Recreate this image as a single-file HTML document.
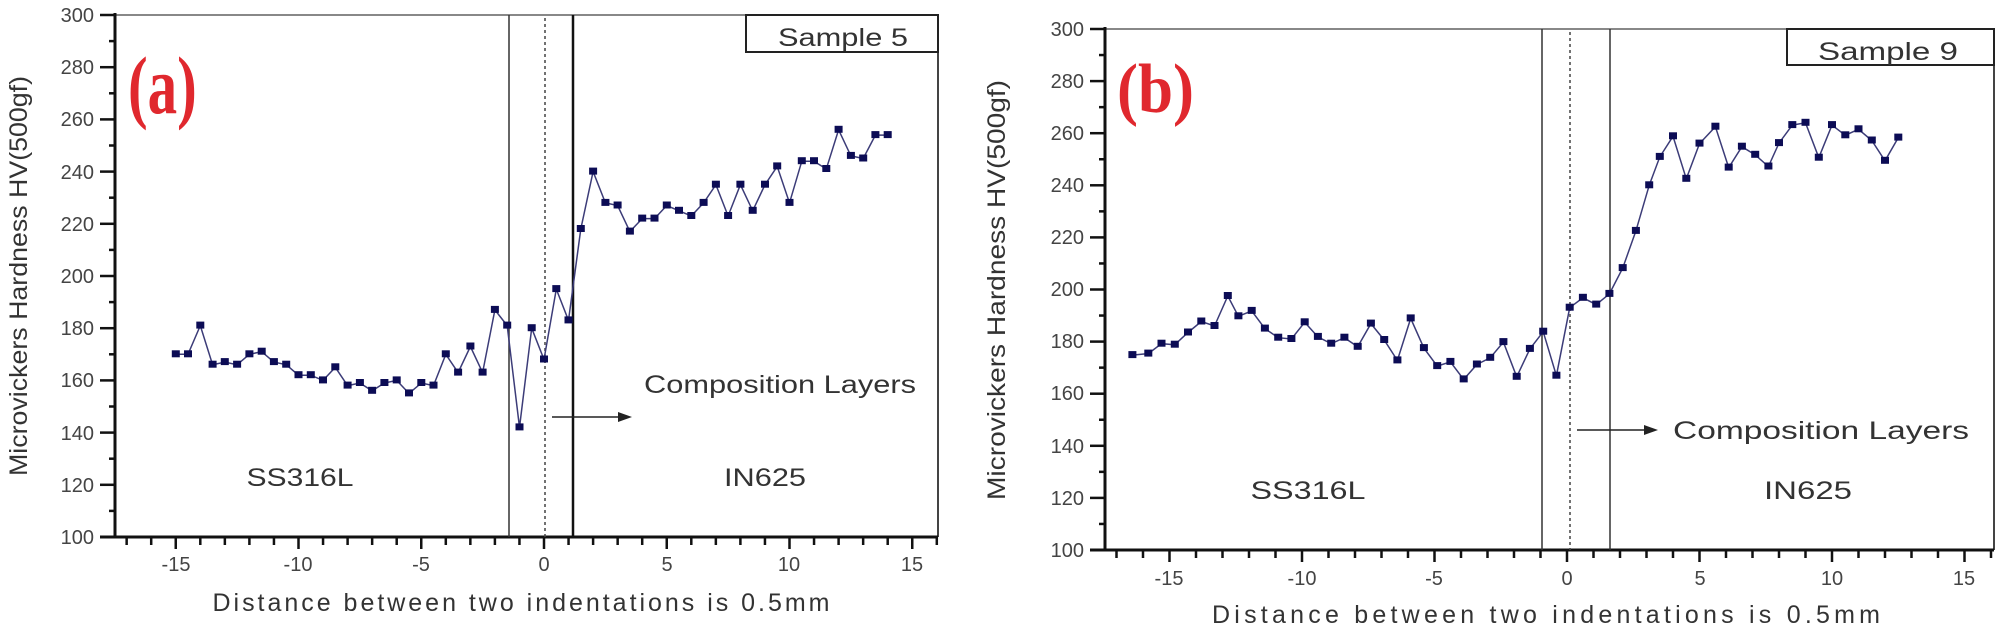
<!DOCTYPE html>
<html><head><meta charset="utf-8"><style>
html,body{margin:0;padding:0;background:#fff;}
svg{display:block;font-family:"Liberation Sans",Arial,sans-serif;}
.tl{font-size:20px;fill:#444;}
.lab{font-size:25px;fill:#333;}
</style></head><body>
<svg id="s" width="2000" height="629" viewBox="0 0 2000 629" xmlns="http://www.w3.org/2000/svg">
<rect width="2000" height="629" fill="#fff"/>
<line x1="115" y1="15" x2="938" y2="15" stroke="#888" stroke-width="2"/>
<line x1="938" y1="15" x2="938" y2="537" stroke="#444" stroke-width="2"/>
<line x1="115" y1="13" x2="115" y2="538" stroke="#111" stroke-width="3"/>
<line x1="100" y1="537" x2="938" y2="537" stroke="#111" stroke-width="3"/>
<rect x="746" y="15" width="192" height="37" fill="#fff" stroke="#222" stroke-width="2"/>
<text x="843" y="46" class="lab" text-anchor="middle" textLength="130" lengthAdjust="spacingAndGlyphs">Sample 5</text>
<text x="128" y="113" font-family="Liberation Serif,serif" font-weight="bold" font-size="82" fill="#e0282e" transform="translate(128 0) scale(0.72 1) translate(-128 0)">(a)</text>
<line x1="509" y1="15" x2="509" y2="537" stroke="#333" stroke-width="1.5"/>
<line x1="545" y1="18" x2="545" y2="537" stroke="#444" stroke-width="1.5" stroke-dasharray="3,3"/>
<line x1="573" y1="15" x2="573" y2="537" stroke="#111" stroke-width="2.5"/>
<line x1="552" y1="417" x2="625" y2="417" stroke="#222" stroke-width="1.5"/>
<polygon points="632,417 618,412 618,422" fill="#222"/>
<text x="644" y="393" class="lab" textLength="272" lengthAdjust="spacingAndGlyphs">Composition Layers</text>
<text x="300" y="486" class="lab" text-anchor="middle" textLength="107" lengthAdjust="spacingAndGlyphs">SS316L</text>
<text x="765" y="486" class="lab" text-anchor="middle" textLength="82" lengthAdjust="spacingAndGlyphs">IN625</text>
<text x="521" y="611" class="lab" text-anchor="middle" textLength="617">Distance between two indentations is 0.5mm</text>
<text transform="translate(27 276) rotate(-90)" class="lab" text-anchor="middle" textLength="400" lengthAdjust="spacingAndGlyphs">Microvickers Hardness HV(500gf)</text>
<g class="tl" text-anchor="end">
<text x="94" y="22">300</text><text x="94" y="74">280</text><text x="94" y="126">260</text><text x="94" y="179">240</text><text x="94" y="231">220</text><text x="94" y="283">200</text><text x="94" y="335">180</text><text x="94" y="387">160</text><text x="94" y="440">140</text><text x="94" y="492">120</text><text x="94" y="544">100</text>
</g>
<g class="tl" text-anchor="middle">
<text x="176" y="571">-15</text><text x="298" y="571">-10</text><text x="421" y="571">-5</text><text x="544" y="571">0</text><text x="667" y="571">5</text><text x="789" y="571">10</text><text x="912" y="571">15</text>
</g>
<line x1="1105" y1="29" x2="1994" y2="29" stroke="#888" stroke-width="2"/>
<line x1="1994" y1="29" x2="1994" y2="550" stroke="#444" stroke-width="2"/>
<line x1="1105" y1="27" x2="1105" y2="551" stroke="#111" stroke-width="3"/>
<line x1="1090" y1="550" x2="1994" y2="550" stroke="#111" stroke-width="3"/>
<rect x="1787" y="29" width="207" height="36" fill="#fff" stroke="#222" stroke-width="2"/>
<text x="1888" y="60" class="lab" text-anchor="middle" textLength="140" lengthAdjust="spacingAndGlyphs">Sample 9</text>
<text x="1117" y="112" font-family="Liberation Serif,serif" font-weight="bold" font-size="70" fill="#e0282e" transform="translate(1117 0) scale(0.9 1) translate(-1117 0)">(b)</text>
<line x1="1542" y1="29" x2="1542" y2="550" stroke="#333" stroke-width="1.5"/>
<line x1="1570" y1="32" x2="1570" y2="550" stroke="#444" stroke-width="1.5" stroke-dasharray="3,3"/>
<line x1="1610" y1="29" x2="1610" y2="550" stroke="#333" stroke-width="1.5"/>
<line x1="1577" y1="430" x2="1650" y2="430" stroke="#222" stroke-width="1.5"/>
<polygon points="1658,430 1644,425 1644,435" fill="#222"/>
<text x="1673" y="439" class="lab" textLength="296" lengthAdjust="spacingAndGlyphs">Composition Layers</text>
<text x="1308" y="499" class="lab" text-anchor="middle" textLength="115" lengthAdjust="spacingAndGlyphs">SS316L</text>
<text x="1808" y="499" class="lab" text-anchor="middle" textLength="88" lengthAdjust="spacingAndGlyphs">IN625</text>
<text x="1546" y="623" class="lab" text-anchor="middle" textLength="668">Distance between two indentations is 0.5mm</text>
<text transform="translate(1005 290) rotate(-90)" class="lab" text-anchor="middle" textLength="420" lengthAdjust="spacingAndGlyphs">Microvickers Hardness HV(500gf)</text>
<g class="tl" text-anchor="end">
<text x="1084" y="36">300</text><text x="1084" y="88">280</text><text x="1084" y="140">260</text><text x="1084" y="192">240</text><text x="1084" y="244">220</text><text x="1084" y="296">200</text><text x="1084" y="348">180</text><text x="1084" y="400">160</text><text x="1084" y="453">140</text><text x="1084" y="505">120</text><text x="1084" y="557">100</text>
</g>
<g class="tl" text-anchor="middle">
<text x="1169" y="585">-15</text><text x="1302" y="585">-10</text><text x="1434" y="585">-5</text><text x="1567" y="585">0</text><text x="1700" y="585">5</text><text x="1832" y="585">10</text><text x="1964" y="585">15</text>
</g>
<g id="dyn"></g>
</svg>
<script>
(function(){
var g=document.getElementById('dyn'),h='';
function panel(ax,x0,xs,ytop,ys,ybot,xr,data){
 for(var v=100;v<=300;v+=10){var y=ytop+(300-v)*ys;var L=(v%20==0)?15:6;
  h+='<line x1="'+(ax-L)+'" y1="'+y+'" x2="'+ax+'" y2="'+y+'" stroke="#111" stroke-width="2.5"/>';}
 for(var i=-17;i<=16;i++){var x=x0+i*xs;if(x<ax+3||x>xr)continue;var L=(i%5==0)?12:8;
  h+='<line x1="'+x+'" y1="'+ybot+'" x2="'+x+'" y2="'+(ybot+L)+'" stroke="#111" stroke-width="2.5"/>';}
 var pts=data.map(function(d){return [x0+d[0]*xs,ytop+(300-d[1])*ys];});
 h+='<polyline fill="none" stroke="#3c3c78" stroke-width="1.5" points="'+pts.map(function(p){return p[0].toFixed(1)+','+p[1].toFixed(1)}).join(' ')+'"/>';
 pts.forEach(function(p){h+='<rect x="'+(p[0]-4).toFixed(1)+'" y="'+(p[1]-4).toFixed(1)+'" width="8" height="7" fill="#0c0c55"/>';});
}
var A=[-15,170,-14.5,170,-14,181,-13.5,166,-13,167,-12.5,166,-12,170,-11.5,171,-11,167,-10.5,166,-10,162,-9.5,162,-9,160,-8.5,165,-8,158,-7.5,159,-7,156,-6.5,159,-6,160,-5.5,155,-5,159,-4.5,158,-4,170,-3.5,163,-3,173,-2.5,163,-2,187,-1.5,181,-1,142,-0.5,180,0,168,0.5,195,1,183,1.5,218,2,240,2.5,228,3,227,3.5,217,4,222,4.5,222,5,227,5.5,225,6,223,6.5,228,7,235,7.5,223,8,235,8.5,225,9,235,9.5,242,10,228,10.5,244,11,244,11.5,241,12,256,12.5,246,13,245,13.5,254,14,254];
var B=[-16.4,174.8,-15.8,175.4,-15.3,179.2,-14.8,178.8,-14.3,183.5,-13.8,187.7,-13.3,186,-12.8,197.5,-12.4,189.7,-11.9,191.8,-11.4,185,-10.9,181.5,-10.4,181,-9.9,187.4,-9.4,181.8,-8.9,179.2,-8.4,181.5,-7.9,178,-7.4,186.9,-6.9,180.6,-6.4,172.8,-5.9,188.9,-5.4,177.5,-4.9,170.6,-4.4,172.2,-3.9,165.5,-3.4,171.2,-2.9,173.8,-2.4,179.8,-1.9,166.5,-1.4,177.2,-0.9,183.8,-0.4,166.9,0.1,193,0.6,196.8,1.1,194.2,1.6,198.3,2.1,208.2,2.6,222.5,3.1,240,3.5,250.9,4.0,258.8,4.5,242.5,5.0,256,5.6,262.5,6.1,246.8,6.6,254.8,7.1,251.7,7.6,247.2,8.0,256.2,8.5,263.1,9.0,264,9.5,250.6,10.0,263.1,10.5,259.2,11.0,261.5,11.5,257.2,12.0,249.4,12.5,258.3];
function pair(a){var r=[];for(var i=0;i<a.length;i+=2)r.push([a[i],a[i+1]]);return r;}
panel(115,544,24.55,15,2.61,537,938,pair(A));
panel(1105,1567,26.5,29,2.605,550,1994,pair(B));
g.innerHTML=h;
})();
</script>
</body></html>
